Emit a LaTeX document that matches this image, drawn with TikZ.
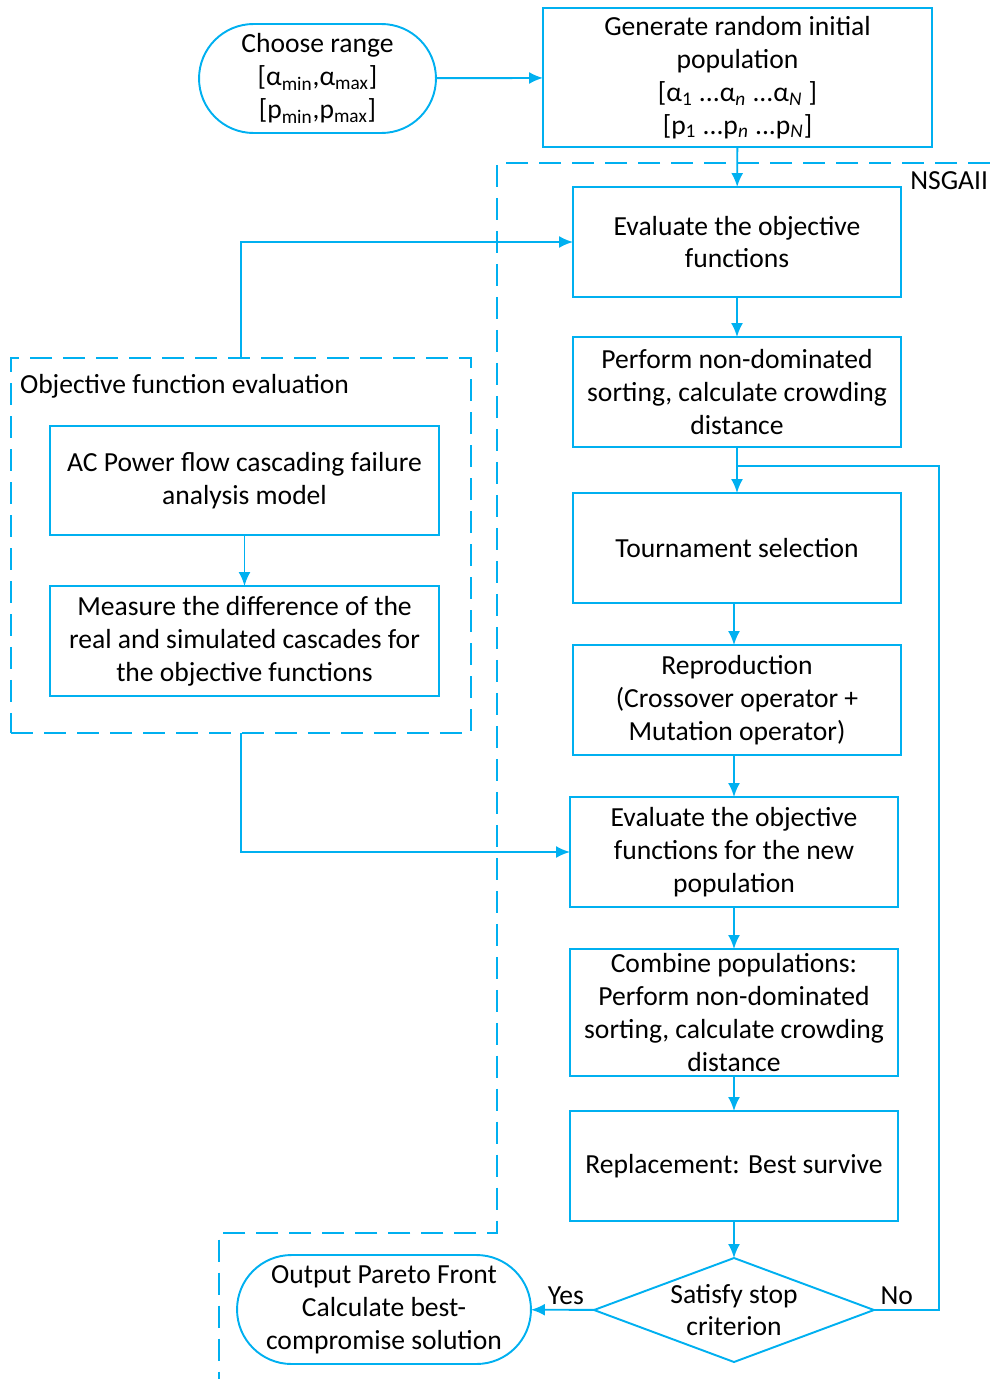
\documentclass[tikz,border=0pt]{standalone}
\usepackage{fontspec}
\setmainfont{Carlito}
\usetikzlibrary{shapes.geometric, shapes.misc, arrows.meta}

\definecolor{flowblue}{RGB}{0,176,240}

\begin{document}
\begin{tikzpicture}[
    x=0.02cm, y=-0.02cm,
    font=\fontsize{15.7}{18.7}\selectfont,
    every node/.style={inner sep=0pt, outer sep=0pt},
    block/.style={rectangle, draw=flowblue, line width=1.1pt, minimum width=6.56cm, minimum height=2.2cm, align=center},
    term/.style={rounded rectangle, draw=flowblue, line width=1.1pt, minimum height=2.18cm, align=center},
    decide/.style={diamond, draw=flowblue, line width=1.1pt, minimum width=5.6cm, minimum height=2.08cm, aspect=2.7, align=center},
    group/.style={draw=flowblue, line width=0.8pt, dash pattern=on 0.44cm off 0.22cm},
    arrow/.style={-{Latex[length=0.28cm,width=0.24cm]}, draw=flowblue, line width=1.1pt},
    link/.style={draw=flowblue, line width=1.1pt}
]
    \useasboundingbox (0,0) rectangle (990,1379);

    % start and initial population
    \node[term, minimum width=4.74cm] (choose) at (317.5,78.5) {Choose range\\{[}α\textsubscript{min},α\textsubscript{max}{]}\\{[}p\textsubscript{min},p\textsubscript{max}{]}};
    \node[block, minimum width=7.78cm, minimum height=2.78cm] (init) at (737.5,77.5) {Generate random initial\\population\\{[}α\textsubscript{1} ...α\textsubscript{\textit{n}} ...α\textsubscript{\textit{N}} {]}\\{[}p\textsubscript{1} ...p\textsubscript{\textit{n}} ...p\textsubscript{\textit{N}}{]}};

    % NSGAII region
    \draw[group] (990,163) -- (497,163) -- (497,1233) -- (219,1233) -- (219,1379);
    \node[anchor=east] (nsgalabel) at (988,181) {NSGAII};

    \node[block] (eval1) at (737,242) {Evaluate the objective\\functions};
    \node[block] (sort1) at (737,392) {Perform non-dominated\\sorting, calculate crowding\\distance};
    \node[block] (tourn) at (737,548) {Tournament selection};
    \node[block] (repro) at (737,700) {Reproduction\\(Crossover operator +\\Mutation operator)};
    \node[block] (eval2) at (734,852) {Evaluate the objective\\functions for the new\\population};
    \node[block, minimum height=2.54cm] (combine) at (734,1012.5) {Combine populations:\\Perform non-dominated\\sorting, calculate crowding\\distance};
    \node[block] (replace) at (734,1166) {Replacement: Best survive};
    \node[decide] (stop) at (734,1310) {Satisfy stop\\criterion};
    \node[term, minimum width=5.88cm] (output) at (384,1309.5) {Output Pareto Front\\Calculate best-\\compromise solution};

    % objective function evaluation
    \node[group, minimum width=9.2cm, minimum height=7.5cm] (objbox) at (241,545.5) {};
    \node[anchor=west] (objlabel) at (20,386) {Objective function evaluation};
    \node[block, minimum width=7.78cm, minimum height=2.18cm] (acmodel) at (244.5,480.5) {AC Power flow cascading failure\\analysis model};
    \node[block, minimum width=7.78cm] (measure) at (244.5,641) {Measure the difference of the\\real and simulated cascades for\\the objective functions};

    \coordinate (loopjoin) at (737,466);

    \draw[arrow] (choose) -- (init);
    \draw[arrow] (init) -- (eval1);
    \draw[arrow] (eval1) -- (sort1);
    \draw[arrow] (sort1) -- (tourn);
    \draw[arrow] (tourn.south -| eval2) -- (repro.north -| eval2);
    \draw[arrow] (repro.south -| eval2) -- (eval2);
    \draw[arrow] (eval2) -- (combine);
    \draw[arrow] (combine) -- (replace);
    \draw[arrow] (replace) -- (stop);
    \draw[arrow] (stop) -- node[above, yshift=3pt, pos=0.45] {Yes} (output);
    \draw[link] (stop.east) -- node[above, yshift=3pt, pos=0.35] {No} ++(65,0) |- (loopjoin);
    \draw[arrow] (acmodel) -- (measure);
    \draw[arrow] (objbox.north) |- (eval1.west);
    \draw[arrow] (objbox.south) |- (eval2.west);
\end{tikzpicture}
\end{document}
